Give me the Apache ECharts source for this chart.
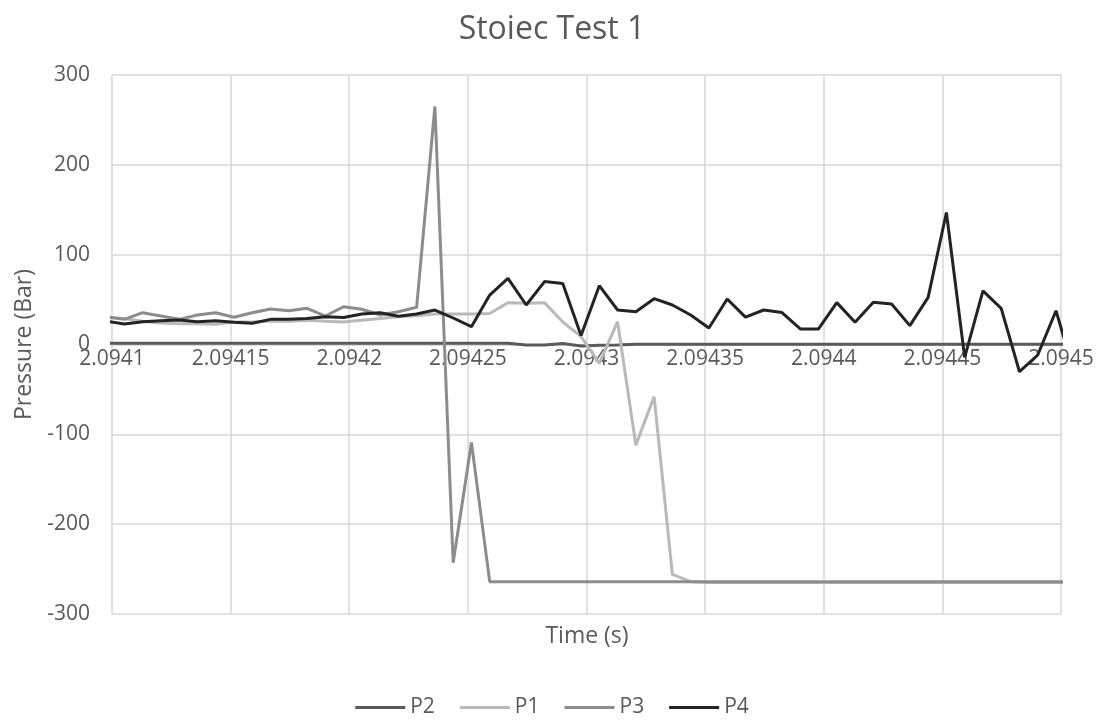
<!DOCTYPE html>
<html><head><meta charset="utf-8">
<script src="https://cdn.jsdelivr.net/npm/echarts@6/dist/echarts.min.js"></script>
<style>html,body{margin:0;padding:0;background:#fff}#c{width:1104px;height:721px}</style>
</head><body><div id="c"></div>
<script>
// Sample times (s)
const times = [2.0940975, 2.0941052, 2.0941129, 2.0941206, 2.0941283, 2.0941360, 2.0941437, 2.0941514, 2.0941591, 2.0941668,
  2.0941745, 2.0941822, 2.0941899, 2.0941976, 2.0942053, 2.0942130, 2.0942207, 2.0942284, 2.0942361, 2.0942438,
  2.0942515, 2.0942592, 2.0942669, 2.0942746, 2.0942823, 2.0942900, 2.0942977, 2.0943054, 2.0943131, 2.0943208,
  2.0943285, 2.0943362, 2.0943439, 2.0943516, 2.0943593, 2.0943670, 2.0943747, 2.0943824, 2.0943901, 2.0943978,
  2.0944055, 2.0944132, 2.0944209, 2.0944286, 2.0944363, 2.0944440, 2.0944517, 2.0944594, 2.0944671, 2.0944748,
  2.0944825, 2.0944902, 2.0944979, 2.0945056];

const p2 = [1.3, 1.3, 1.3, 1.3, 1.3, 1.3, 1.3, 1.3, 1.3, 1.3,
  1.3, 1.3, 1.3, 1.3, 1.3, 1.3, 1.3, 1.3, 1.3, 1.3,
  1.3, 1.3, 1.3, -0.5, -0.5, 1.2, -1.7, -0.8, -0.5, 0.2,
  0.2, 0.2, 0.2, 0.2, 0.2, 0.2, 0.2, 0.2, 0.2, 0.2,
  0.2, 0.2, 0.2, 0.2, 0.2, 0.2, 0.2, 0.2, 0.2, 0.2,
  0.2, 0.2, 0.2, 0.2];

const p1 = [30, 29, 26, 24, 23, 23, 22.5, 25, 25, 26,
  26, 27, 26, 25, 27, 29, 31, 32, 34, 34,
  34, 34.5, 46.6, 46, 46.6, 25, 8.7, -21, 25.4, -112,
  -58, -256, -264, -265, -265, -265, -265, -265, -265, -265,
  -265, -265, -265, -265, -265, -265, -265, -265, -265, -265,
  -265, -265, -265, -265];

const p3 = [31, 28, 35.4, 31.7, 28, 32.8, 35.4, 30.3, 35.4, 39.5,
  37.6, 40.3, 31.7, 42, 39.2, 32.8, 36.5, 41.4, 265, -243,
  -109, -264, -264, -264, -264, -264, -264, -264, -264, -264,
  -264, -264, -264, -264, -264, -264, -264, -264, -264, -264,
  -264, -264, -264, -264, -264, -264, -264, -264, -264, -264,
  -264, -264, -264, -264];

const p4 = [26, 22.8, 25.4, 26.5, 27.3, 25.4, 26.5, 24.7, 23.6, 28,
  28, 29, 31, 30, 34, 35.4, 31.5, 34, 38.4, 29.5,
  19.8, 55, 73.7, 44, 70, 68, 10, 65.5, 38.4, 36.5,
  51, 44, 32.8, 18.3, 50.7, 30.5, 38.4, 35.6, 17.3, 17.3,
  46.6, 24.7, 47, 45, 21, 52.5, 147, -14.3, 59.6, 40.3,
  -30.3, -11.7, 37.6, -32];

const seriesNames = ['P2', 'P1', 'P3', 'P4'];
const seriesValues = [p2, p1, p3, p4];
const seriesColors = ['#5a5a5a', '#b9b9b9', '#8c8c8c', '#232323'];

const FONT = '"Open Sans", "Noto Sans", sans-serif';
const TXT = '#595959';
const GRID = '#d9d9d9';

const chart = echarts.init(document.getElementById('c'), null, {renderer: 'canvas'});
chart.setOption({
  animation: false,
  backgroundColor: '#ffffff',
  title: [
    {text: 'Stoiec Test 1', left: 'center', top: 9,
     textStyle: {fontFamily: FONT, fontSize: 32, fontWeight: 'normal', color: TXT}}
  ],
  graphic: [
    {type: 'text', x: 587, y: 636, z: 10,
     style: {text: 'Time (s)', fill: TXT, font: '23px ' + FONT, textAlign: 'center', textVerticalAlign: 'middle'}}
  ],
  legend: {
    data: seriesNames, left: 'center', top: 692, icon: 'rect',
    itemWidth: 50, itemHeight: 3, itemGap: 25,
    textStyle: {fontFamily: FONT, fontSize: 21, color: TXT}
  },
  grid: {left: 112, right: 43, top: 75, bottom: 107, containLabel: false},
  xAxis: {
    type: 'value', min: 2.0941, max: 2.0945, interval: 0.00005,
    position: 'bottom', offset: -269.5,
    axisLine: {show: true, onZero: false, lineStyle: {color: GRID, width: 1.5}},
    axisTick: {show: false},
    axisLabel: {
      color: TXT, fontFamily: FONT, fontSize: 21, margin: 4,
      formatter: v => String(parseFloat(v.toFixed(6)))
    },
    splitLine: {show: true, lineStyle: {color: GRID, width: 1.5}}
  },
  yAxis: {
    type: 'value', min: -300, max: 300, interval: 100,
    name: 'Pressure (Bar)', nameLocation: 'middle', nameGap: 68, nameRotate: 90,
    nameTextStyle: {fontFamily: FONT, fontSize: 23, color: TXT},
    axisLine: {show: false},
    axisTick: {show: false},
    axisLabel: {color: TXT, fontFamily: FONT, fontSize: 21, margin: 22},
    splitLine: {show: true, lineStyle: {color: GRID, width: 1.5}}
  },
  series: seriesNames.map((n, i) => ({
    name: n, type: 'line', symbol: 'none', showSymbol: false, smooth: false, clip: true,
    data: times.map((t, j) => [t, seriesValues[i][j]]),
    lineStyle: {color: seriesColors[i], width: 3},
    itemStyle: {color: seriesColors[i]}
  }))
});
</script>
</body></html>
